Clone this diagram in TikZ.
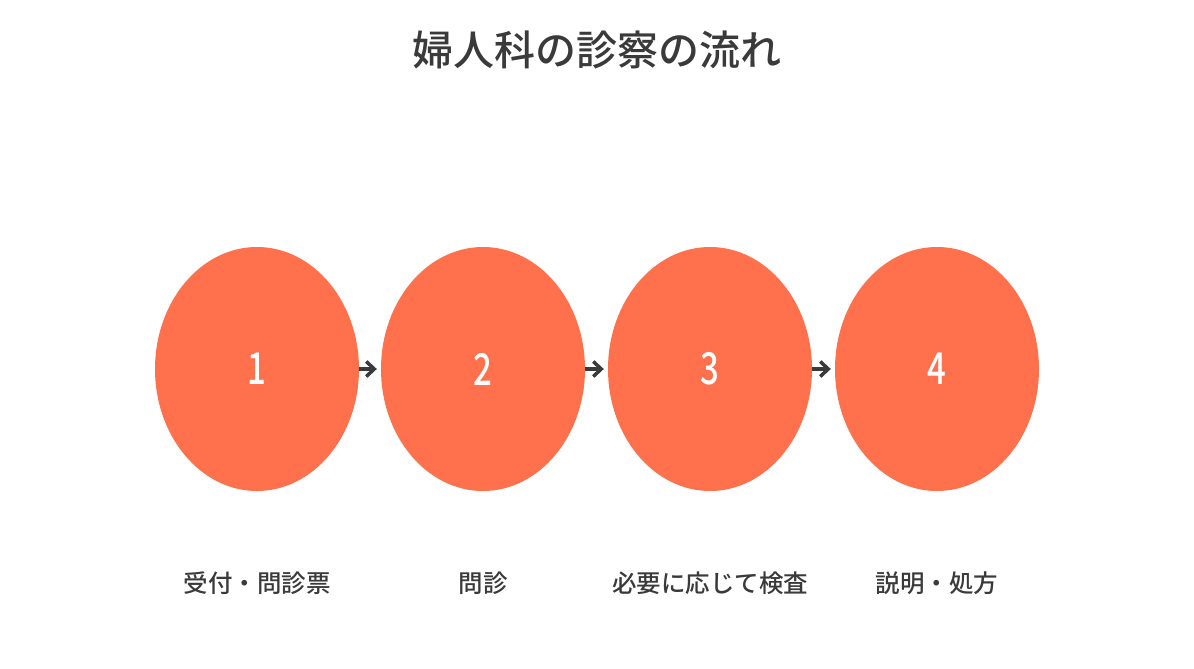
\documentclass[tikz,border=0pt]{standalone}
\usepackage{fontspec}
\setmainfont{Noto Sans CJK JP}
\newfontfamily\jpmed{Noto Sans CJK JP Medium}
\usetikzlibrary{shapes.geometric,arrows.meta}
\definecolor{coral}{RGB}{255,113,77}
\definecolor{ink}{RGB}{58,58,58}
\tikzset{
  stepell/.style={ellipse, fill=coral, draw=none, minimum width=204bp, minimum height=244bp, inner sep=0pt,
    text=white, font=\jpmed\fontsize{44bp}{50bp}\selectfont},
  steplabel/.style={text=ink, font=\jpmed\fontsize{24.5bp}{28bp}\selectfont, anchor=center},
  flowarr/.style={draw=ink, line width=3.5bp, -{Straight Barb[length=8bp,width=15bp]}, shorten >=4bp}
}
\newcommand{\numtxt}[1]{\scalebox{0.75}[1]{#1}}
\begin{document}
\begin{tikzpicture}[x=1bp,y=-1bp]
\useasboundingbox (0,0) rectangle (1194,669);
\node[text=ink, font=\jpmed\fontsize{41bp}{48bp}\selectfont] (title) at (597,50) {婦人科の診察の流れ};
\node[stepell] (e1) at (257,369) {\numtxt{1}};
\node[stepell] (e2) at (483,369) {\numtxt{2}};
\node[stepell] (e3) at (710,369) {\numtxt{3}};
\node[stepell] (e4) at (937,369) {\numtxt{4}};
\draw[flowarr] (e1) -- (e2);
\draw[flowarr] (e2) -- (e3);
\draw[flowarr] (e3) -- (e4);
\node[steplabel] (l1) at (257,583) {受付・問診票};
\node[steplabel] (l2) at (483,583) {問診};
\node[steplabel] (l3) at (710,583) {必要に応じて検査};
\node[steplabel] (l4) at (937,583) {説明・処方};
\end{tikzpicture}
\end{document}
